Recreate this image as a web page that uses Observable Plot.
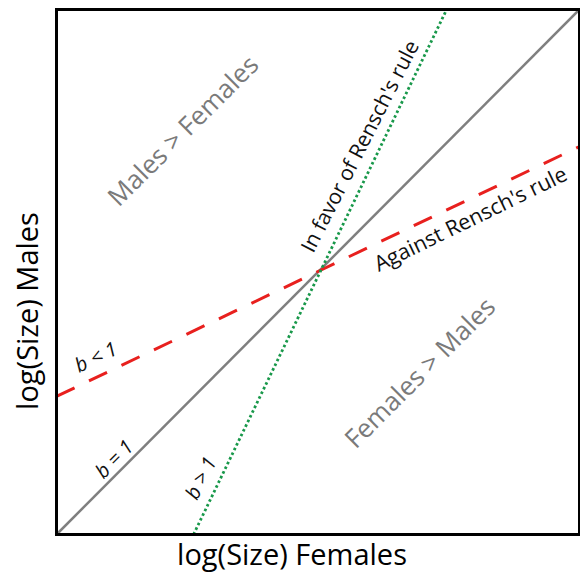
<!DOCTYPE html>
<html>
<head>
<meta charset="utf-8">
<script src="https://cdn.jsdelivr.net/npm/d3@7"></script>
<script src="https://cdn.jsdelivr.net/npm/@observablehq/plot@0.6"></script>
<style>
  html, body { margin: 0; padding: 0; background: #fff; }
  #chart svg { display: block; }
</style>
</head>
<body>
<div id="chart"></div>
<script>
// ---- data ----
const lineNames = ["b = 1", "b < 1", "b > 1"];
const lineX1 = [0, 0, 0.262];
const lineY1 = [0, 0.263, 0];
const lineX2 = [1, 1, 0.746];
const lineY2 = [1, 0.739, 1];

const regionLabels = ["Males > Females", "Females > Males"];
const regionX = [0.243, 0.696];
const regionY = [0.768, 0.307];

const ruleLabels = ["In favor of Rensch's rule", "Against Rensch's rule"];
const ruleX = [0.581, 0.792];
const ruleY = [0.739, 0.600];

const slopeLabels = ["b < 1", "b = 1", "b > 1"];
const slopeX = [0.076, 0.111, 0.277];
const slopeY = [0.337, 0.143, 0.107];

const xLabel = "log(Size) Females";
const yLabel = "log(Size) Males";

// ---- tables ----
const lines = lineNames.map((name, i) => ({name, x1: lineX1[i], y1: lineY1[i], x2: lineX2[i], y2: lineY2[i]}));
const regions = regionLabels.map((t, i) => ({t, x: regionX[i], y: regionY[i]}));
const rules = ruleLabels.map((t, i) => ({t, x: ruleX[i], y: ruleY[i]}));
const slopes = slopeLabels.map((t, i) => ({t, x: slopeX[i], y: slopeY[i]}));

const font = "'Open Sans', sans-serif";

const chart = Plot.plot({
  width: 580,
  height: 576,
  marginLeft: 56,
  marginRight: 1,
  marginTop: 9,
  marginBottom: 42,
  x: {domain: [0, 1], axis: null},
  y: {domain: [0, 1], axis: null},
  style: {fontFamily: font, background: "#fff"},
  marks: [
    Plot.link(lines.filter(d => d.name === "b = 1"), {x1: "x1", y1: "y1", x2: "x2", y2: "y2", stroke: "#7f7f7f", strokeWidth: 2.5}),
    Plot.link(lines.filter(d => d.name === "b < 1"), {x1: "x1", y1: "y1", x2: "x2", y2: "y2", stroke: "#e8201e", strokeWidth: 3, strokeDasharray: "20,16"}),
    Plot.link(lines.filter(d => d.name === "b > 1"), {x1: "x1", y1: "y1", x2: "x2", y2: "y2", stroke: "#18984a", strokeWidth: 2.8, strokeDasharray: "2.6,2.6"}),
    Plot.frame({stroke: "#000", strokeWidth: 3}),
    Plot.text(regions, {x: "x", y: "y", text: "t", rotate: -45, fontSize: 26, fill: "#7a7a7a"}),
    Plot.text(rules.slice(0, 1), {x: "x", y: "y", text: "t", rotate: -63, fontSize: 21, fill: "#111"}),
    Plot.text(rules.slice(1), {x: "x", y: "y", text: "t", rotate: -26, fontSize: 21.5, fill: "#111"}),
    Plot.text(slopes.filter(d => d.t === "b < 1"), {x: "x", y: "y", text: "t", rotate: -26, fontSize: 20, fontStyle: "italic", fill: "#111"}),
    Plot.text(slopes.filter(d => d.t === "b = 1"), {x: "x", y: "y", text: "t", rotate: -45, fontSize: 20, fontStyle: "italic", fill: "#111"}),
    Plot.text(slopes.filter(d => d.t === "b > 1"), {x: "x", y: "y", text: "t", rotate: -63, fontSize: 20, fontStyle: "italic", fill: "#111"}),
    Plot.text([xLabel], {frameAnchor: "bottom", textAnchor: "middle", lineAnchor: "bottom", text: d => d, dx: -26, dy: 30, fontSize: 29, fill: "#000"}),
    Plot.text([yLabel], {frameAnchor: "left", textAnchor: "middle", lineAnchor: "middle", text: d => d, rotate: -90, dx: -28, dy: 39, fontSize: 29, fill: "#000"})
  ]
});
document.getElementById("chart").appendChild(chart);
</script>
</body>
</html>
